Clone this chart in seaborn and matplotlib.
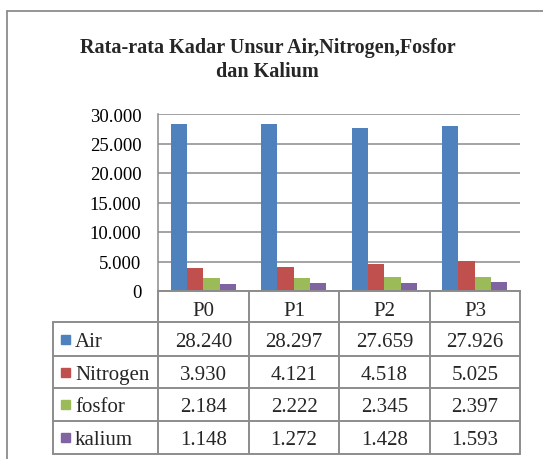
import matplotlib
matplotlib.use("Agg")
import matplotlib.pyplot as plt
from matplotlib.lines import Line2D
from matplotlib.patches import Rectangle
from matplotlib.ticker import FuncFormatter
import seaborn as sns
import pandas as pd

# ---- data ----
categories = ["P0", "P1", "P2", "P3"]
series_names = ["Air", "Nitrogen", "fosfor", "kalium"]
air = [28240, 28297, 27659, 27926]
nitrogen = [3930, 4121, 4518, 5025]
fosfor = [2184, 2222, 2345, 2397]
kalium = [1148, 1272, 1428, 1593]
series_values = [air, nitrogen, fosfor, kalium]
colors = ["#4F81BD", "#C0504D", "#9BBB59", "#8064A2"]
title_lines = ["Rata-rata Kadar Unsur Air,Nitrogen,Fosfor", "dan Kalium"]
yticks = [0, 5000, 10000, 15000, 20000, 25000, 30000]

rows = []
for name, vals in zip(series_names, series_values):
    for c, v in zip(categories, vals):
        rows.append({"Perlakuan": c, "Unsur": name, "Nilai": v})
df = pd.DataFrame(rows)

sns.set_theme(style="white")
plt.rcParams["font.family"] = ["Liberation Serif", "DejaVu Serif"]

W, H = 543, 460
fig = plt.figure(figsize=(W / 100, H / 100), dpi=100)

def fx(x):
    return x / W

def fy(y):
    return 1 - y / H

GRID = "#8a8a8a"
LINE = "#8c8c8c"

# plot area
x0, x1 = 158, 520
ytop, ybot = 115, 292
ax = fig.add_axes([fx(x0), fy(ybot), fx(x1) - fx(x0), fy(ytop) - fy(ybot)])
sns.barplot(data=df, x="Perlakuan", y="Nilai", hue="Unsur", palette=colors,
            hue_order=series_names, order=categories, width=0.72, gap=0,
            saturation=1, legend=False, ax=ax, linewidth=0)
ax.set_xlim(-0.5, 3.5)
ax.set_ylim(0, 30000)
ax.set_yticks(yticks)
ax.yaxis.set_major_formatter(FuncFormatter(lambda v, p: f"{int(v):,}".replace(",", ".")))
ax.set_xticks([])
ax.set_xlabel("")
ax.set_ylabel("")
ax.tick_params(axis="y", length=0, pad=12, labelsize=13.5, colors="black")
for t in ax.get_yticklabels():
    t.set_fontfamily(["Liberation Serif", "DejaVu Serif"])
ax.yaxis.grid(True, color=GRID, linewidth=1.1)
ax.set_axisbelow(True)
for s in ["top", "right"]:
    ax.spines[s].set_visible(False)
ax.spines["left"].set_color(GRID)
ax.spines["left"].set_linewidth(1.1)
ax.spines["bottom"].set_color(LINE)
ax.spines["bottom"].set_linewidth(1.4)
ax.patch.set_alpha(0)

# title
fig.text(fx(267.5), fy(53), title_lines[0], ha="center", va="baseline",
         fontsize=14.5, fontweight="bold")
fig.text(fx(267.5), fy(77), title_lines[1], ha="center", va="baseline",
         fontsize=14.5, fontweight="bold")

# outer chart border
fig.add_artist(Line2D([fx(7), fx(543)], [fy(12), fy(12)], color="#8c8c8c", lw=1.3))
fig.add_artist(Line2D([fx(7), fx(7)], [fy(12), fy(460)], color="#8c8c8c", lw=1.3))

# data table
col_edges = [158, 249, 339, 430, 520]
row_edges = [292, 323, 357, 389, 422, 455]
tab_left = 53
lw = 1.4
for i, xe in enumerate(col_edges):
    fig.add_artist(Line2D([fx(xe), fx(xe)], [fy(row_edges[0]), fy(row_edges[-1])], color=LINE, lw=lw))
fig.add_artist(Line2D([fx(tab_left), fx(tab_left)], [fy(row_edges[1]), fy(row_edges[-1])], color=LINE, lw=lw))
for ye in row_edges[1:]:
    fig.add_artist(Line2D([fx(tab_left), fx(col_edges[-1])], [fy(ye), fy(ye)], color=LINE, lw=lw))

col_centers = [(col_edges[i] + col_edges[i + 1]) / 2 for i in range(4)]
for c, xc in zip(categories, col_centers):
    fig.text(fx(xc), fy(316), c, ha="center", va="baseline", fontsize=15)

for r, (name, vals, col) in enumerate(zip(series_names, series_values, colors)):
    yc = (row_edges[r + 1] + row_edges[r + 2]) / 2
    fig.add_artist(Rectangle((fx(61), fy(yc + 4.5)), fx(9), 9 / H, color=col,
                             transform=fig.transFigure))
    fig.text(fx(75), fy(yc + 7), name, ha="left", va="baseline", fontsize=15)
    for v, xc in zip(vals, col_centers):
        fig.text(fx(xc), fy(yc + 7), f"{v:,}".replace(",", "."), ha="center",
                 va="baseline", fontsize=15)

fig.savefig("out.png", dpi=100)
